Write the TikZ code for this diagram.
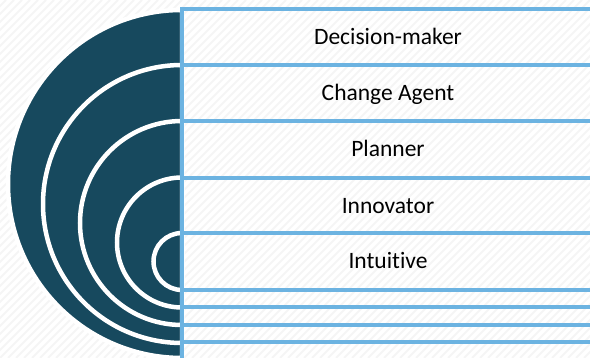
\documentclass[tikz,border=0pt]{standalone}
\usepackage{fontspec}
\setmainfont{Carlito}[Ligatures=NoCommon]
\definecolor{ringteal}{HTML}{17495E}
\definecolor{boxblue}{HTML}{6CB3E1}
\begin{document}
\begin{tikzpicture}
[x=1pt,y=1pt,
  ringdecorate/.style={fill=ringteal,draw=white,line width=4.5pt},%
  boxdecorate/.style={draw=boxblue,line width=3.8pt},%
  labeldecorate/.style={anchor=base,inner sep=0pt,font=\fontsize{23.5}{28}\selectfont},%
  hatchdecorate/.style={draw=black!4,line width=2pt}]
\useasboundingbox (0,0) rectangle (590,358);
\clip (0,0) rectangle (590,358);
%% background hatch
\foreach \x in {-360,-352,...,590} {
  \draw[hatchdecorate] (\x,0) -- ++(358,358);
}
%% rings
\foreach \top/\r in {348/174, 293/139, 237/102, 180.5/65, 125/28.5} {
  \draw[ringdecorate] (182,\top) arc[start angle=90,end angle=270,radius=\r] -- cycle;
}
%% boxes
\foreach \top/\bot in {349/-3, 293/16, 237/33, 180/51, 125/68} {
  \draw[boxdecorate] (182,\top) rectangle (600,\bot);
}
%% labels
\foreach \nodename/\y/\txt in {decision/313.4/Decision-maker, change/257.4/Change Agent,
  planner/201.4/Planner, innovator/144.4/Innovator, intuitive/89/Intuitive} {
  \node (\nodename) at (388,\y) [labeldecorate] {\txt};
}
\end{tikzpicture}
\end{document}
